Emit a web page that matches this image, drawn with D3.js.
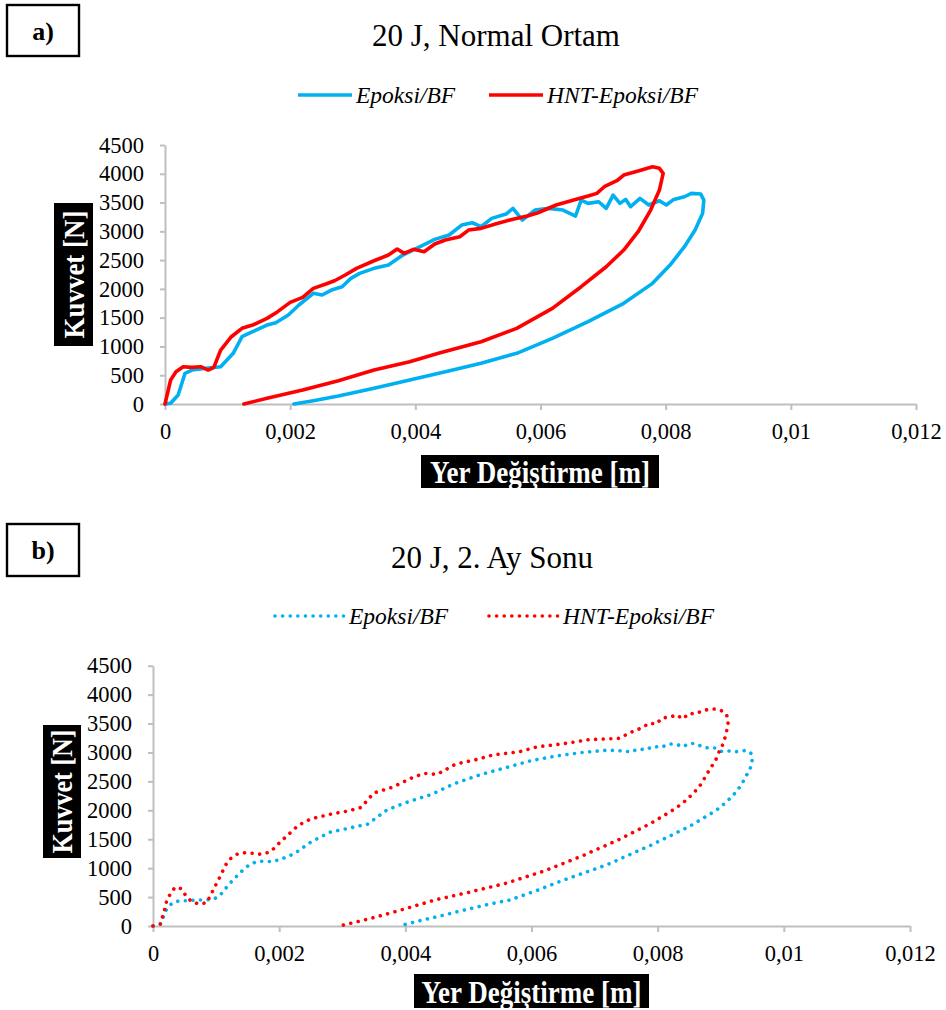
<!DOCTYPE html>
<html>
<head>
<meta charset="utf-8">
<script src="https://cdn.jsdelivr.net/npm/d3@7"></script>
<style>
  html, body { margin: 0; padding: 0; background: #fff; }
  svg { display: block; }
  text { font-family: "Liberation Serif", "Times New Roman", serif !important; }
</style>
</head>
<body>
<svg id="chart" width="946" height="1010"></svg>
<script>
// ---- axis ticks ----
const xTicks = [0, 0.002, 0.004, 0.006, 0.008, 0.01, 0.012];
const xTickLabels = ["0", "0,002", "0,004", "0,006", "0,008", "0,01", "0,012"];
const yTicks = [0, 500, 1000, 1500, 2000, 2500, 3000, 3500, 4000, 4500];
const yTickLabels = ["0", "500", "1000", "1500", "2000", "2500", "3000", "3500", "4000", "4500"];

const seriesNames = ["Epoksi/BF", "HNT-Epoksi/BF"];

// ---- a) 20 J, Normal Ortam : displacement [m] / force [N] ----
const aEpoksiDisp = [0, 0.00009, 0.00021, 0.00032, 0.00043, 0.00066, 0.00089, 0.00109, 0.00123, 0.0014,
  0.00163, 0.00177, 0.00197, 0.00214, 0.00237, 0.00251, 0.00266, 0.00283, 0.00297, 0.00311,
  0.00334, 0.00357, 0.0038, 0.00402, 0.00431, 0.00454, 0.00474, 0.00491, 0.00505, 0.00522,
  0.00545, 0.00556, 0.00571, 0.00591, 0.00613, 0.00636, 0.00656, 0.00665, 0.00676, 0.00693,
  0.00705, 0.00716, 0.00727, 0.00736, 0.00744, 0.00759, 0.00773, 0.0079, 0.00801, 0.00813,
  0.0083, 0.00841, 0.00856, 0.00861, 0.00859, 0.00847, 0.0083, 0.00807, 0.00779, 0.00733,
  0.00676, 0.00619, 0.00562, 0.00505, 0.00448, 0.00391, 0.00334, 0.00277, 0.00237, 0.00206];
const aEpoksiForce = [0, 12, 156, 533, 590, 620, 648, 881, 1169, 1256,
  1372, 1412, 1546, 1720, 1923, 1894, 1980, 2038, 2183, 2270,
  2357, 2414, 2588, 2704, 2860, 2936, 3109, 3149, 3080, 3225,
  3300, 3399, 3196, 3370, 3399, 3370, 3266, 3543, 3486, 3514,
  3399, 3630, 3486, 3555, 3428, 3572, 3457, 3532, 3457, 3555,
  3601, 3660, 3648, 3543, 3312, 3022, 2733, 2414, 2096, 1749,
  1430, 1141, 881, 707, 561, 417, 272, 139, 57, 0];

const aHntDisp = [0, 0.00009, 0.000176, 0.00029, 0.00043, 0.00057, 0.00069, 0.00078, 0.00089, 0.00106,
  0.00123, 0.0014, 0.00163, 0.0018, 0.002, 0.0022, 0.00237, 0.00257, 0.00271, 0.00288,
  0.00306, 0.00334, 0.00357, 0.00371, 0.00382, 0.00397, 0.00414, 0.00431, 0.00448, 0.00471,
  0.00485, 0.00505, 0.00528, 0.00551, 0.00579, 0.00596, 0.00625, 0.00653, 0.00676, 0.0069,
  0.00702, 0.00722, 0.00733, 0.00756, 0.00779, 0.0079, 0.00796, 0.0079, 0.00776, 0.00756,
  0.00733, 0.00705, 0.00665, 0.00619, 0.00562, 0.00505, 0.00437, 0.00391, 0.00334, 0.00277,
  0.0022, 0.00163, 0.00126];
const aHntForce = [0, 417, 561, 648, 637, 648, 590, 637, 938, 1169,
  1315, 1372, 1488, 1604, 1766, 1853, 2009, 2084, 2142, 2241,
  2357, 2489, 2588, 2692, 2617, 2687, 2645, 2779, 2849, 2906,
  3022, 3051, 3127, 3196, 3266, 3323, 3457, 3543, 3613, 3660,
  3775, 3879, 3978, 4047, 4122, 4094, 4007, 3717, 3370, 2993,
  2675, 2385, 2038, 1662, 1315, 1082, 881, 735, 591, 405,
  243, 99, 0];

// ---- b) 20 J, 2. Ay Sonu ----
const bEpoksiDisp = [0, 0.00012, 0.00017, 0.00022, 0.00031, 0.00043, 0.00056, 0.00068, 0.00081, 0.00095,
  0.00106, 0.00114, 0.00123, 0.00132, 0.00141, 0.00151, 0.00163, 0.00175, 0.00188, 0.00201,
  0.00213, 0.00225, 0.0025, 0.0028, 0.0031, 0.0034, 0.0037, 0.004, 0.0044, 0.0048,
  0.0052, 0.0056, 0.006, 0.0064, 0.0068, 0.0072, 0.00747, 0.00757, 0.00769, 0.00781,
  0.00793, 0.00806, 0.00818, 0.0083, 0.0084, 0.00849, 0.00859, 0.00869, 0.0088, 0.00891,
  0.00901, 0.0091, 0.0092, 0.00929, 0.0094, 0.00948, 0.0095, 0.00948, 0.00942, 0.00936,
  0.00929, 0.00921, 0.00912, 0.00902, 0.00892, 0.0085, 0.0079, 0.0072, 0.0065, 0.0061,
  0.00566, 0.00534, 0.00494, 0.00455, 0.00423, 0.0039];
const bEpoksiForce = [0, 35, 173, 300, 403, 437, 437, 450, 450, 461,
  524, 634, 749, 853, 951, 1043, 1107, 1124, 1112, 1147,
  1199, 1257, 1450, 1620, 1690, 1760, 2000, 2130, 2270, 2470,
  2620, 2740, 2860, 2940, 3000, 3040, 3025, 3008, 3060, 3048,
  3106, 3089, 3147, 3141, 3100, 3152, 3158, 3106, 3077, 3077,
  3020, 3031, 3014, 3014, 3037, 2985, 2887, 2754, 2628, 2507,
  2386, 2277, 2178, 2080, 1993, 1720, 1400, 1060, 790, 620,
  450, 380, 277, 173, 92, 0];

const bHntDisp = [0, 0.00012, 0.00015, 0.00019, 0.00022, 0.00028, 0.00035, 0.00045, 0.00052, 0.00061,
  0.00073, 0.00085, 0.00091, 0.00097, 0.00103, 0.00109, 0.00114, 0.00122, 0.00133, 0.00146,
  0.00159, 0.00171, 0.00184, 0.00194, 0.00203, 0.00213, 0.00222, 0.00232, 0.0025, 0.0028,
  0.0031, 0.0033, 0.0035, 0.0038, 0.0041, 0.0043, 0.0045, 0.0048, 0.0051, 0.0054,
  0.0058, 0.0061, 0.0065, 0.0069, 0.0074, 0.00752, 0.00764, 0.00776, 0.00786, 0.00798,
  0.00807, 0.00819, 0.0083, 0.0084, 0.00849, 0.00861, 0.00871, 0.00883, 0.00892, 0.00901,
  0.00909, 0.00912, 0.0091, 0.00907, 0.00903, 0.00897, 0.00892, 0.00885, 0.00878, 0.00872,
  0.00865, 0.00856, 0.00847, 0.00837, 0.00827, 0.0079, 0.0074, 0.0068, 0.0062, 0.0056,
  0.005, 0.00447, 0.00411, 0.00384, 0.00352, 0.00324, 0.00296];
const bHntForce = [0, 35, 161, 306, 450, 565, 669, 645, 524, 420,
  380, 403, 524, 657, 783, 911, 1037, 1158, 1240, 1267,
  1256, 1240, 1274, 1361, 1470, 1561, 1660, 1751, 1850, 1930,
  1990, 2050, 2300, 2400, 2560, 2640, 2620, 2800, 2870, 2960,
  3010, 3100, 3150, 3220, 3245, 3320, 3378, 3430, 3505, 3494,
  3597, 3609, 3649, 3580, 3671, 3671, 3723, 3747, 3752, 3723,
  3660, 3545, 3401, 3263, 3130, 3003, 2870, 2749, 2628, 2512,
  2391, 2294, 2190, 2104, 2023, 1780, 1500, 1210, 950, 740,
  580, 450, 334, 248, 150, 75, 0];

const blue = "#00b0f0";
const red = "#ff0000";
const axisGrey = "#bfbfbf";

const svg = d3.select("#chart");
svg.append("rect").attr("width", 946).attr("height", 1010).attr("fill", "#fff");

function drawPanel(p) {
  const g = svg.append("g");

  // panel letter box
  g.append("rect")
    .attr("x", p.tag.x).attr("y", p.tag.y).attr("width", p.tag.w).attr("height", p.tag.h)
    .attr("fill", "#fff").attr("stroke", "#000").attr("stroke-width", 2.4);
  g.append("text")
    .attr("x", p.tag.x + p.tag.w / 2).attr("y", p.tag.y + p.tag.h / 2 + 9)
    .attr("text-anchor", "middle").attr("font-size", 26).attr("font-weight", "bold")
    .text(p.tag.label);

  // title
  g.append("text")
    .attr("x", p.title.x).attr("y", p.title.y)
    .attr("text-anchor", "middle").attr("font-size", 31)
    .text(p.title.text);

  // legend
  p.legend.forEach((L, i) => {
    const ln = g.append("line")
      .attr("x1", L.x1).attr("x2", L.x2).attr("y1", L.y).attr("y2", L.y)
      .attr("stroke", L.color).attr("stroke-width", 3.6);
    if (p.dotted) ln.attr("stroke-dasharray", "0.01 7.6").attr("stroke-linecap", "round");
    g.append("text")
      .attr("x", L.x2 + 4).attr("y", L.y + 8)
      .attr("font-size", 23.5).attr("font-style", "italic")
      .text(seriesNames[i]);
  });

  const x = d3.scaleLinear().domain([0, 0.012]).range(p.xRange);
  const y = d3.scaleLinear().domain([0, 4500]).range(p.yRange);

  // x axis
  const xAxis = d3.axisBottom(x).tickValues(xTicks)
    .tickFormat((d, i) => xTickLabels[i]).tickSize(6).tickSizeOuter(0).tickPadding(13);
  const gx = g.append("g").attr("transform", `translate(0,${p.yRange[0]})`).call(xAxis);
  gx.select(".domain").attr("stroke", axisGrey).attr("stroke-width", 2);
  gx.selectAll(".tick line").attr("stroke", axisGrey).attr("stroke-width", 2);
  gx.selectAll(".tick text").attr("font-size", 22.5).attr("fill", "#000");

  // y axis
  const yAxis = d3.axisLeft(y).tickValues(yTicks)
    .tickFormat((d, i) => yTickLabels[i]).tickSize(5).tickSizeOuter(0).tickPadding(16);
  const gy = g.append("g").attr("transform", `translate(${p.xRange[0]},0)`).call(yAxis);
  gy.select(".domain").attr("stroke", axisGrey).attr("stroke-width", 2);
  gy.selectAll(".tick line").attr("stroke", axisGrey).attr("stroke-width", 2);
  gy.selectAll(".tick text").attr("font-size", 22.5).attr("fill", "#000");

  // axis title boxes
  const yb = p.yLabelBox;
  g.append("rect").attr("x", yb.x).attr("y", yb.y).attr("width", yb.w).attr("height", yb.h).attr("fill", "#000");
  g.append("text")
    .attr("transform", `translate(${yb.x + yb.w / 2 + 10},${yb.y + yb.h / 2}) rotate(-90)`)
    .attr("text-anchor", "middle").attr("font-size", 30).attr("font-weight", "bold")
    .attr("fill", "#fff").attr("textLength", yb.len).attr("lengthAdjust", "spacingAndGlyphs")
    .text("Kuvvet [N]");
  const xb = p.xLabelBox;
  g.append("rect").attr("x", xb.x).attr("y", xb.y).attr("width", xb.w).attr("height", xb.h).attr("fill", "#000");
  g.append("text")
    .attr("x", xb.x + xb.w / 2).attr("y", xb.y + xb.h - 5)
    .attr("text-anchor", "middle").attr("font-size", 32).attr("font-weight", "bold")
    .attr("fill", "#fff").attr("textLength", xb.len).attr("lengthAdjust", "spacingAndGlyphs")
    .text("Yer Değiştirme [m]");

  // curves
  const line = d3.line().x(d => x(d[0])).y(d => y(d[1]));
  p.series.forEach(s => {
    const pts = s.disp.map((v, i) => [v, s.force[i]]);
    const path = g.append("path").datum(pts)
      .attr("d", line).attr("fill", "none")
      .attr("stroke", s.color).attr("stroke-width", 3.6)
      .attr("stroke-linejoin", "round").attr("stroke-linecap", "round");
    if (p.dotted) path.attr("stroke-dasharray", "0.01 7.6");
  });
}

drawPanel({
  tag: { x: 7, y: 5, w: 72, h: 51, label: "a)" },
  title: { x: 496, y: 46, text: "20 J, Normal Ortam" },
  legend: [
    { x1: 298, x2: 352, y: 95, color: blue },
    { x1: 489, x2: 543, y: 95, color: red }
  ],
  dotted: false,
  xRange: [165, 916],
  yRange: [404, 145],
  yLabelBox: { x: 54, y: 203, w: 39, h: 143, len: 128 },
  xLabelBox: { x: 421, y: 455, w: 238, h: 33, len: 220 },
  series: [
    { disp: aEpoksiDisp, force: aEpoksiForce, color: blue },
    { disp: aHntDisp, force: aHntForce, color: red }
  ]
});

drawPanel({
  tag: { x: 7, y: 524, w: 72, h: 52, label: "b)" },
  title: { x: 492, y: 568, text: "20 J, 2. Ay Sonu" },
  legend: [
    { x1: 275, x2: 345, y: 616, color: blue },
    { x1: 489, x2: 559, y: 616, color: red }
  ],
  dotted: true,
  xRange: [153, 910],
  yRange: [926, 665.7],
  yLabelBox: { x: 43, y: 725, w: 38, h: 133, len: 124 },
  xLabelBox: { x: 414, y: 974, w: 235, h: 34, len: 220 },
  series: [
    { disp: bEpoksiDisp, force: bEpoksiForce, color: blue },
    { disp: bHntDisp, force: bHntForce, color: red }
  ]
});
</script>
</body>
</html>
